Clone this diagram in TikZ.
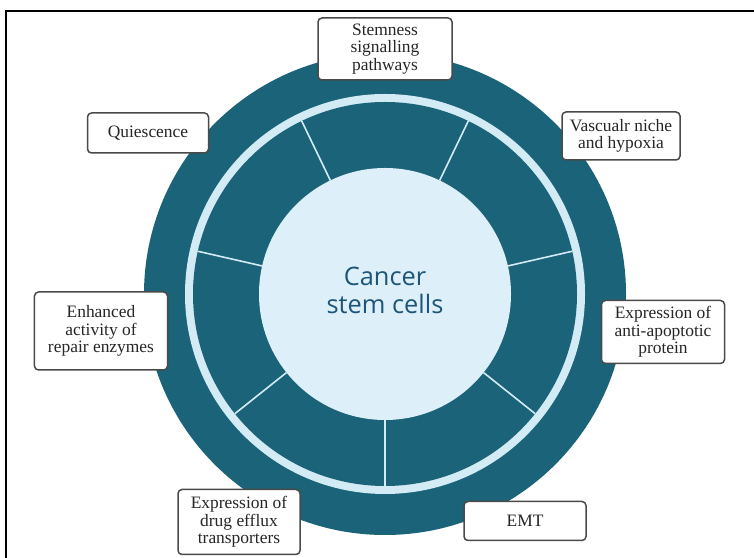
\documentclass[tikz,border=0pt]{standalone}
\usepackage{fontspec}
\setmainfont{Liberation Serif}
\newfontfamily\cscfont{Open Sans}
\definecolor{ringdark}{HTML}{1B6378}
\definecolor{ringlight}{HTML}{D3EBF5}
\definecolor{corelight}{HTML}{DDF0F9}
\definecolor{cstext}{HTML}{1D5578}
\definecolor{boxline}{HTML}{4A4A4A}
\tikzset{
  labelbox/.style={draw=boxline, line width=1.5bp, rounded corners=4bp, fill=white,
    align=center, inner sep=2bp, text=black!85, font=\fontsize{17.5}{17.5}\selectfont},
  spoke/.style={draw=ringlight, line width=1.6bp}
}
\begin{document}
\begin{tikzpicture}[x=1bp,y=1bp]
\useasboundingbox (0,0) rectangle (754,558);

\draw[line width=2bp] (6,0) -- (6,547) -- (754,547);

\fill[ringdark] (385,264) circle (241);
\fill[ringlight] (385,264) circle (200);
\fill[ringdark] (385,264) circle (192);
\fill[corelight] (385,264) circle (126);

\draw[spoke, shift={(385,264)}] (-90:126) -- (-90:192);
\draw[spoke, shift={(385,264)}] (-38.57:126) -- (-38.57:192);
\draw[spoke, shift={(385,264)}] (12.86:126) -- (12.86:192);
\draw[spoke, shift={(385,264)}] (64.29:126) -- (64.29:192);
\draw[spoke, shift={(385,264)}] (115.71:126) -- (115.71:192);
\draw[spoke, shift={(385,264)}] (167.14:126) -- (167.14:192);
\draw[spoke, shift={(385,264)}] (218.57:126) -- (218.57:192);

\node (csc) at (385,268) [align=center, text=cstext,
  font=\cscfont\fontsize{25.5}{28}\selectfont] {Cancer\\stem cells};

\node (stem) at (385,509) [labelbox, minimum width=134bp, minimum height=62bp]
  {Stemness\\signalling\\pathways};
\node (quies) at (148,425) [labelbox, minimum width=121bp, minimum height=40bp]
  {Quiescence};
\node (vasc) at (621,422) [labelbox, minimum width=118bp, minimum height=48bp]
  {Vascualr niche\\and hypoxia};
\node (repair) at (101,227) [labelbox, minimum width=133bp, minimum height=78bp]
  {Enhanced\\activity of\\repair enzymes};
\node (antiap) at (663,226) [labelbox, minimum width=123bp, minimum height=63bp]
  {Expression of\\anti-apoptotic\\protein};
\node (efflux) at (239,36) [labelbox, minimum width=122bp, minimum height=65bp]
  {Expression of\\drug efflux\\transporters};
\node (emt) at (525,37) [labelbox, minimum width=122bp, minimum height=39bp]
  {EMT};

\end{tikzpicture}
\end{document}
